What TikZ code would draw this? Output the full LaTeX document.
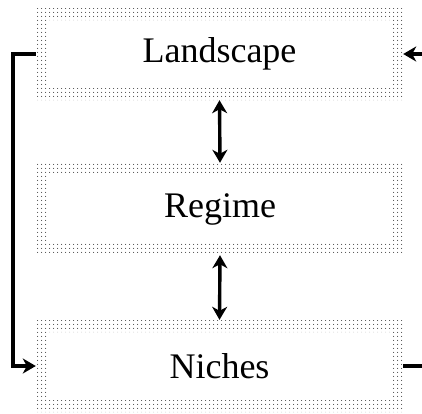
\documentclass[tikz,border=0pt]{standalone}
\usepackage{fontspec}
\setmainfont{Liberation Serif}
\usetikzlibrary{arrows.meta,positioning,patterns.meta}

\tikzdeclarepattern{
  name=banddots,
  bottom left={(0pt,0pt)},
  top right={(4pt,4pt)},
  tile size={(4pt,4pt)},
  code={\fill (2pt,2pt) circle (0.65pt);}
}

\tikzset{
  level/.style={minimum width=367pt,minimum height=92pt,inner sep=0pt,
    font=\fontsize{36}{42}\selectfont,
    path picture={\fill[pattern=banddots,pattern color=black!70,even odd rule]
      (path picture bounding box.south west) rectangle (path picture bounding box.north east)
      ([shift={(12pt,12pt)}]path picture bounding box.south west) rectangle
      ([shift={(-12pt,-12pt)}]path picture bounding box.north east);}},
  link/.style={line width=3.4pt,-{Stealth[length=13pt,width=15pt,inset=4pt]}},
  twoway/.style={line width=3.4pt,{Stealth[length=13pt,width=15pt,inset=4pt]}-{Stealth[length=13pt,width=15pt,inset=4pt]}},
}

\begin{document}
\begin{tikzpicture}[x=1pt,y=-1pt]
\useasboundingbox (0,0) rectangle (422,413);
\node[level] (land) at (219.5,54) {Landscape};
\node[level] (reg) at (220,209) {Regime};
\node[level] (nich) at (219.5,366) {Niches};
\coordinate (lc) at (13,0);
\coordinate (rc) at (440,0);
\draw[twoway] (land.south) -- (reg.north);
\draw[twoway] (reg.south) -- (nich.north);
% feedback loops round the levels
\draw[link] (land.west) -- (land.west -| lc) |- (nich.west);
\draw[link] (nich.east) -- (nich.east -| rc) |- (land.east);
\end{tikzpicture}
\end{document}
